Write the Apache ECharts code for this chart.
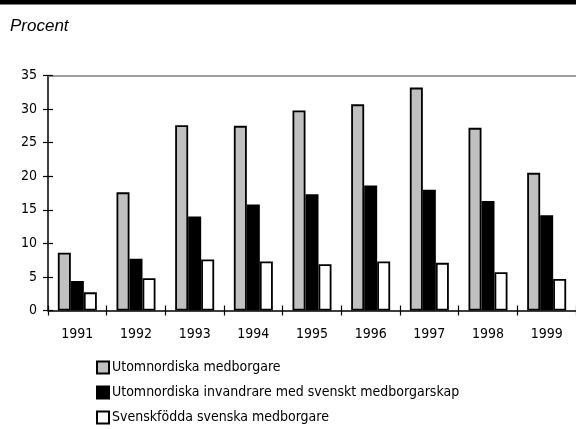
<!DOCTYPE html>
<html><head><meta charset="utf-8">
<script src="https://cdn.jsdelivr.net/npm/echarts@6/dist/echarts.min.js"></script>
<style>html,body{margin:0;padding:0;background:#fff}#c{width:576px;height:429px}</style>
</head><body><div id="c"></div>
<script>
const years = ['1991','1992','1993','1994','1995','1996','1997','1998','1999'];
const utomnordiska = [8.6, 17.6, 27.6, 27.5, 29.8, 30.7, 33.2, 27.2, 20.5];
const invandrare = [4.4, 7.7, 14.0, 15.8, 17.3, 18.6, 18.0, 16.3, 14.2];
const svenskfodda = [2.7, 4.8, 7.6, 7.3, 6.9, 7.3, 7.1, 5.7, 4.7];
const seriesNames = ['Utomnordiska medborgare','Utomnordiska invandrare med svenskt medborgarskap','Svenskfödda svenska medborgare'];
const yTicks = [0, 5, 10, 15, 20, 25, 30, 35];

const FONT = '"Liberation Sans Narrow","DejaVu Sans Condensed",sans-serif';
const chart = echarts.init(document.getElementById('c'));
const barStyle = (fill) => ({color: fill, borderColor: '#000', borderWidth: 1.8});
chart.setOption({
  animation: false,
  graphic: [
    {type: 'rect', shape: {x: 0, y: 0, width: 576, height: 4.5}, style: {fill: '#000'}},
    {type: 'text', left: 10, top: 18, style: {text: 'Procent', font: 'italic 17px "Liberation Sans",Arial,sans-serif', fill: '#000'}}
  ],
  grid: {left: 48, top: 75.5, width: 530, height: 235, containLabel: false},
  legend: {
    orient: 'vertical', left: 96, top: 360, height: 80, padding: 0,
    itemWidth: 12, itemHeight: 12, itemGap: 10,
    icon: 'rect',
    textStyle: {fontFamily: FONT, fontSize: 14, lineHeight: 15, color: '#000', padding: [0,0,0,-2]},
    data: seriesNames
  },
  xAxis: [
    {type: 'category', data: years, position: 'bottom',
     axisLine: {lineStyle: {color: '#000', width: 1.5}},
     axisTick: {show: true, length: 5, inside: false, lineStyle: {color: '#000', width: 1.2}},
     axisLabel: {fontFamily: FONT, fontSize: 14, color: '#000', margin: 17}},
    {type: 'category', data: years, position: 'bottom',
     axisLine: {show: false},
     axisTick: {show: true, length: 5, inside: true, lineStyle: {color: '#000', width: 1.2}},
     axisLabel: {show: false}},
    {type: 'category', data: years, position: 'top',
     axisLine: {show: true, lineStyle: {color: '#808080', width: 1.5}},
     axisTick: {show: false}, axisLabel: {show: false}}
  ],
  yAxis: [
    {type: 'value', min: 0, max: 35, interval: 5,
     axisLine: {show: true, lineStyle: {color: '#000', width: 1.5}},
     axisTick: {show: true, length: 5, lineStyle: {color: '#000', width: 1.2}},
     splitLine: {show: false},
     axisLabel: {fontFamily: FONT, fontSize: 14, color: '#000', margin: 11,
       formatter: v => yTicks.includes(v) ? String(v) : ''}},
    {type: 'value', min: 0, max: 35, interval: 5, position: 'left',
     axisLine: {show: false},
     axisTick: {show: true, inside: true, length: 5, lineStyle: {color: '#000', width: 1.2}},
     splitLine: {show: false}, axisLabel: {show: false}}
  ],
  series: [
    {name: seriesNames[0], type: 'bar', data: utomnordiska, barWidth: 13, barGap: '0%', itemStyle: barStyle('#c0c0c0')},
    {name: seriesNames[1], type: 'bar', data: invandrare, barWidth: 13, barGap: '0%', itemStyle: barStyle('#000')},
    {name: seriesNames[2], type: 'bar', data: svenskfodda, barWidth: 13, barGap: '0%', itemStyle: barStyle('#fff')}
  ]
});
</script></body></html>
